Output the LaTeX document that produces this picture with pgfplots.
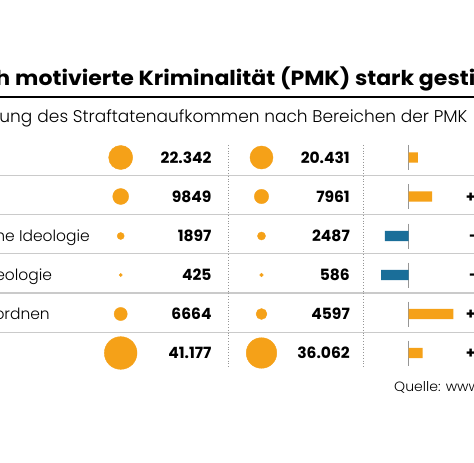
\documentclass[border=0pt]{standalone}
\usepackage{graphicx}
\usepackage{pgfplots}
\pgfplotsset{compat=1.18}
\usepackage{pgfplotstable}
\usepackage{fontspec}
\setmainfont{Poppins}
\newfontfamily\lightfont{Poppins}[UprightFont={* Light}]

\definecolor{pOrange}{RGB}{245,161,24}
\definecolor{pBlue}{RGB}{26,110,153}
\definecolor{sepGray}{RGB}{202,202,202}
\definecolor{axGray}{RGB}{150,150,150}

% Straftaten je Bereich: a = 2016, b = 2015; y = Zeilenmitte
\pgfplotstableread{
y     a     b
157.5 22342 20431
196.5 9849  7961
236   1897  2487
275   425   586
314   6664  4597
353   41177 36062
}\pmk

\newcommand\numfont{\fontsize{15.5bp}{18bp}\selectfont\bfseries}
\newcommand\lblfont{\fontsize{15.5bp}{18bp}\selectfont\lightfont}
\newcommand\titlefont{\fontsize{20.5bp}{24bp}\selectfont\bfseries}
\newcommand\subfont{\fontsize{17bp}{20bp}\selectfont\lightfont}
\newcommand\wsp{\kern\fontdimen2\font}
% eine Tabellenzeile: Grundlinie, Wert 2016, Wert 2015, Veränderung (mit Startpunkt)
\newcommand\tabrow[5]{%
  \node[anchor=base east, inner sep=0pt, font=\numfont] at (axis cs:211.7,#1) {#2};
  \node[anchor=base east, inner sep=0pt, font=\numfont] at (axis cs:350,#1) {#3};
  \node[anchor=base west, inner sep=0pt, font=\numfont] at (axis cs:#5,#1) {#4};
}
\newcommand\zeroline[2]{%
  \draw[axGray, line width=1.2bp] (axis cs:0,#1) -- (axis cs:0,#2);
}

\begin{document}
\begin{tikzpicture}
\useasboundingbox (0bp,0bp) rectangle (474bp,463bp);
\fill[white] (0bp,0bp) rectangle (474bp,463bp);
\begin{scope}
\clip (0bp,0bp) rectangle (474bp,463bp);

% Tabelle: Kreise, Zahlen, Linien
\begin{axis}[at={(0bp,0bp)}, anchor=south west, width=474bp, height=463bp,
  scale only axis, xmin=0, xmax=474, ymin=0, ymax=463, y dir=reverse,
  hide axis, clip=false]

  % Titel
  \node[anchor=base west, inner sep=0pt, font=\titlefont]
    at (axis cs:15,86) {\scalebox{1.075}[1]{motivierte Kriminalität (PMK) stark gestiegen}};
  \node[anchor=base east, inner sep=0pt, font=\titlefont]
    at (axis cs:15,86) {\scalebox{1.075}[1]{Politisch\wsp}};
  \draw[black, line width=2bp] (axis cs:0,97.3) -- (axis cs:474,97.3);

  % Untertitel
  \node[anchor=base west, inner sep=0pt, font=\subfont]
    at (axis cs:37.3,122.7) {des Straftatenaufkommen nach Bereichen der PMK};
  \node[anchor=base east, inner sep=0pt, font=\subfont]
    at (axis cs:37.3,122.7) {Entwicklung\wsp};

  % Trennlinien
  \pgfplotsinvokeforeach{175.5,214.5,253.5,293,332.5}{
    \draw[sepGray, line width=1.8bp] (axis cs:0,#1) -- (axis cs:474,#1);
  }
  \draw[axGray, line width=0.8bp, dash pattern=on 0.8bp off 2bp]
    (axis cs:228.3,145) -- (axis cs:228.3,367);
  \draw[axGray, line width=0.8bp, dash pattern=on 0.8bp off 2bp]
    (axis cs:363.3,145) -- (axis cs:363.3,367);

  % Kreise, Fläche proportional zur Fallzahl
  \addplot[scatter, only marks, mark=*,
    scatter/use mapped color={draw=pOrange, fill=pOrange},
    visualization depends on={16.4*sqrt(\thisrow{a}/41177) \as \rad},
    scatter/@pre marker code/.append style={/tikz/mark size=\rad}]
    table[x expr=120.7, y=y] {\pmk};
  \addplot[scatter, only marks, mark=*,
    scatter/use mapped color={draw=pOrange, fill=pOrange},
    visualization depends on={16.4*sqrt(\thisrow{b}/41177) \as \rad},
    scatter/@pre marker code/.append style={/tikz/mark size=\rad}]
    table[x expr=261.5, y=y] {\pmk};

  % Zahlen und Veränderung in Prozent (rechtsbündig, Ziffern gleich breit)
  \tabrow{163.3}{22.342}{20.431}{+9,4\,\%}{476}
  \tabrow{202.3}{9849}{7961}{+23,7\,\%}{465.7}
  \tabrow{241.8}{1897}{2487}{-23,7\,\%}{469}
  \tabrow{280.8}{425}{586}{-27,5\,\%}{469}
  \tabrow{319.8}{6664}{4597}{+45,0\,\%}{465.7}
  \tabrow{358.8}{41.177}{36.062}{+14,2\,\%}{465.7}

  % Bereichsnamen
  \node[anchor=base east, inner sep=0pt, font=\lblfont] at (axis cs:90,241.3) {Ausländische Ideologie};
  \node[anchor=base east, inner sep=0pt, font=\lblfont] at (axis cs:52.3,280.3) {Religiöse Ideologie};
  \node[anchor=base east, inner sep=0pt, font=\lblfont] at (axis cs:50,319.3) {Nicht zuzuordnen};

  % Quelle
  \node[anchor=base west, inner sep=0pt, font=\fontsize{13.5bp}{16bp}\selectfont\lightfont]
    at (axis cs:394,391.7) {\scalebox{1.04}[1]{Quelle: www.bka.de}};
\end{axis}

% Balken: Veränderung 2016 gegenüber 2015 in Prozent (Nulllinie bei x = 408,5)
\begin{axis}[at={(0bp,0bp)}, anchor=south west, width=474bp, height=463bp,
  scale only axis, xmin=-408.5, xmax=65.5, ymin=0, ymax=463, y dir=reverse,
  hide axis, clip=false]
  \zeroline{145}{170}
  \zeroline{184}{209}
  \zeroline{223.5}{248.5}
  \zeroline{262.5}{287.5}
  \zeroline{301.5}{326.5}
  \zeroline{340.5}{365.5}
  \addplot[xbar, bar width=10.3, bar shift=0pt, fill=pOrange, draw=none,
    restrict x to domain=0:1000]
    table[y=y, x expr={100*(\thisrow{a}/\thisrow{b}-1)}] {\pmk};
  \addplot[xbar, bar width=10.3, bar shift=0pt, fill=pBlue, draw=none,
    restrict x to domain=-1000:0]
    table[y=y, x expr={100*(\thisrow{a}/\thisrow{b}-1)}] {\pmk};
\end{axis}
\end{scope}
\end{tikzpicture}
\end{document}
